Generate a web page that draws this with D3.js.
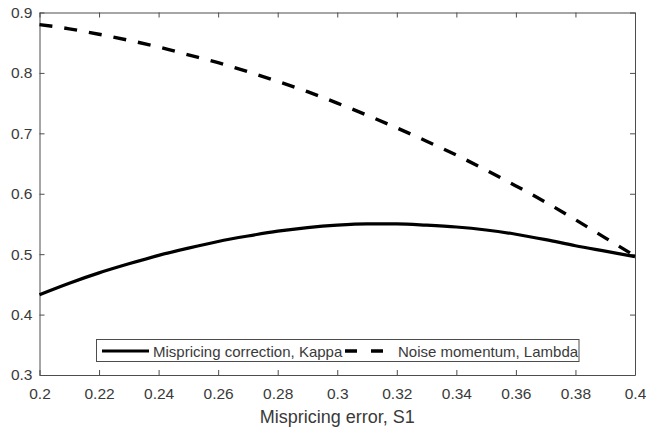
<!DOCTYPE html>
<html>
<head>
<meta charset="utf-8">
<script src="https://cdn.jsdelivr.net/npm/d3@7"></script>
<style>
  html, body { margin: 0; padding: 0; background: #fff; }
  svg text { font-family: "Liberation Sans", Arial, Helvetica, sans-serif; }
</style>
</head>
<body>
<svg id="chart" width="646" height="432"></svg>
<script>
// Mispricing error S1 on the horizontal axis
const s1 = [0.20, 0.21, 0.22, 0.23, 0.24, 0.25, 0.26, 0.27, 0.28, 0.29, 0.30,
            0.31, 0.32, 0.33, 0.34, 0.35, 0.36, 0.37, 0.38, 0.39, 0.40];
// Mispricing correction, Kappa
const kappa = [0.433, 0.452, 0.469, 0.484, 0.498, 0.510, 0.521, 0.530, 0.538, 0.544, 0.548,
               0.550, 0.550, 0.548, 0.545, 0.540, 0.533, 0.524, 0.514, 0.505, 0.496];
// Noise momentum, Lambda
const lambda = [0.880, 0.873, 0.864, 0.854, 0.843, 0.830, 0.817, 0.802, 0.786, 0.769, 0.750,
                0.730, 0.709, 0.687, 0.664, 0.639, 0.613, 0.586, 0.557, 0.527, 0.497];

const xTicks = [0.2, 0.22, 0.24, 0.26, 0.28, 0.3, 0.32, 0.34, 0.36, 0.38, 0.4];
const yTicks = [0.3, 0.4, 0.5, 0.6, 0.7, 0.8, 0.9];
const seriesNames = ["Mispricing correction, Kappa", "Noise momentum, Lambda"];
const xLabel = "Mispricing error, S1";

const svg = d3.select("#chart");
const plotL = 39.5, plotR = 635, plotT = 12.5, plotB = 375;
const axisColor = "#4d4d4d", textColor = "#3a3a3a";

const x = d3.scaleLinear().domain([0.2, 0.4]).range([plotL, plotR]);
const y = d3.scaleLinear().domain([0.3, 0.9]).range([plotB, plotT]);
const fmt = d => String(+d.toFixed(2));

// Axes with inward ticks, mirrored on top and right
const xAxis = svg.append("g").attr("transform", `translate(0,${plotB})`)
  .call(d3.axisBottom(x).tickValues(xTicks).tickSizeInner(-5).tickSizeOuter(0).tickPadding(13).tickFormat(fmt));
const yAxis = svg.append("g").attr("transform", `translate(${plotL},0)`)
  .call(d3.axisLeft(y).tickValues(yTicks).tickSizeInner(-5).tickSizeOuter(0).tickPadding(7).tickFormat(fmt));
const xTop = svg.append("g").attr("transform", `translate(0,${plotT})`)
  .call(d3.axisTop(x).tickValues(xTicks).tickSizeInner(-5).tickSizeOuter(0).tickFormat(""));
const yRight = svg.append("g").attr("transform", `translate(${plotR},0)`)
  .call(d3.axisRight(y).tickValues(yTicks).tickSizeInner(-5).tickSizeOuter(0).tickFormat(""));

[xAxis, yAxis, xTop, yRight].forEach(g => {
  g.select(".domain").attr("stroke", axisColor).attr("stroke-width", 1);
  g.selectAll(".tick line").attr("stroke", axisColor).attr("stroke-width", 1);
  g.selectAll(".tick text").attr("fill", textColor).style("font-size", "15.5px");
});

// Curves
const line = vals => d3.line().x((d, i) => x(s1[i])).y(d => y(d)).curve(d3.curveMonotoneX)(vals);
svg.append("path").attr("d", line(kappa))
  .attr("fill", "none").attr("stroke", "#000").attr("stroke-width", 3.2);
svg.append("path").attr("d", line(lambda))
  .attr("fill", "none").attr("stroke", "#000").attr("stroke-width", 3.4)
  .attr("stroke-dasharray", "13,12");

// Axis title
svg.append("text").attr("x", (plotL + plotR) / 2).attr("y", 423)
  .attr("text-anchor", "middle").attr("fill", textColor).style("font-size", "18px")
  .text(xLabel);

// Legend
const lg = svg.append("g");
lg.append("rect").attr("x", 96.5).attr("y", 339.5).attr("width", 482.5).attr("height", 22)
  .attr("fill", "#fff").attr("stroke", axisColor).attr("stroke-width", 1);
const ly = 351;
lg.append("line").attr("x1", 102).attr("x2", 149).attr("y1", ly).attr("y2", ly)
  .attr("stroke", "#000").attr("stroke-width", 3.2);
lg.append("text").attr("x", 153).attr("y", ly + 5.5).attr("fill", textColor)
  .style("font-size", "15px").text(seriesNames[0]);
lg.append("line").attr("x1", 345).attr("x2", 383).attr("y1", ly).attr("y2", ly)
  .attr("stroke", "#000").attr("stroke-width", 3.4).attr("stroke-dasharray", "12,14");
lg.append("text").attr("x", 398).attr("y", ly + 5.5).attr("fill", textColor)
  .style("font-size", "15px").text(seriesNames[1]);
</script>
</body>
</html>
